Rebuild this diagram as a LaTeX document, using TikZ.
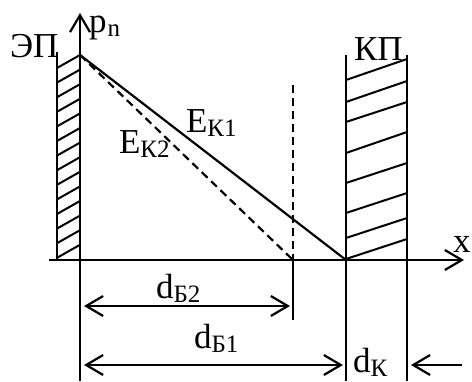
\documentclass[tikz,border=0pt]{standalone}
\usepackage{fontspec}
\setmainfont{Liberation Serif}
\usetikzlibrary{arrows.meta}
\newcommand{\lowtext}[1]{\raisebox{-4pt}{\fontsize{25}{25}\selectfont #1}}
\begin{document}
\begin{tikzpicture}[x = 1pt, y = -1pt, line width = 2.2pt,
    >= {Straight Barb[length = 17pt, width = 20pt]},
    lbl/.style = {anchor = base west, inner sep = 0pt,
                  font = \fontsize{35}{40}\selectfont},
    hatch/.style = {line width = 2pt},
    dsh/.style = {dash pattern = on 8pt off 5pt}]
  \useasboundingbox (0,0) rectangle (472,381);
  \coordinate (ytop) at (80,13);
  \coordinate (ybot) at (80,381);
  \coordinate (xl) at (49,260);
  \coordinate (xr) at (464,260);
  \coordinate (peak) at (80,55);
  \coordinate (k) at (346,260);
  \coordinate (b2) at (293,260);
  \coordinate (b2top) at (293,85);
  \coordinate (b2low) at (293,320);
  \coordinate (ep) at (57,52);
  \coordinate (epb) at (57,260);
  \coordinate (kpl) at (346,55);
  \coordinate (kplb) at (346,381);
  \coordinate (kpr) at (407,55);
  \coordinate (kprb) at (407,381);
  \coordinate (dba) at (84,306);
  \coordinate (dbb) at (290,306);
  \coordinate (dca) at (84,365);
  \coordinate (dcb) at (343,365);
  \coordinate (dka) at (462,365);
  \coordinate (dkb) at (411,365);
  % axes
  \draw [->] (ybot) -- (ytop);
  \draw [->] (xl) -- (xr);
  % emitter junction
  \draw (ep) -- (epb);
  \foreach \y in {0,...,13}
    \draw [hatch] (57,68+14.6*\y) -- (80,55+14.6*\y);
  % collector junction
  \draw (kpl) -- (kplb);
  \draw (kpr) -- (kprb);
  \foreach \l/\r in {80/59, 102/81, 122/102, 153/132,
                     183/163, 213/193, 238/218, 259/239}
    \draw [hatch] (346,\l) -- (407,\r);
  % profiles
  \draw (peak) -- (k);
  \draw [dsh] (peak) -- (b2);
  \draw [dsh] (b2top) -- (b2);
  \draw (b2) -- (b2low);
  % widths
  \draw [<->] (dba) -- (dbb);
  \draw [<->] (dca) -- (dcb);
  \draw [->] (dka) -- (dkb);
  \node [lbl] (ep lbl) at (9,57) {ЭП};
  \node [lbl] (kp lbl) at (353,60) {КП};
  \node [lbl] (p lbl) at (88,32) {p\kern1pt\lowtext{n}};
  \node [lbl] (x lbl) at (452,252) {x};
  \node [lbl] (e1 lbl) at (185,132) {E\lowtext{К1}};
  \node [lbl] (e2 lbl) at (118,153) {E\lowtext{К2}};
  \node [lbl] (d2 lbl) at (155,298) {d\lowtext{Б2}};
  \node [lbl] (d1 lbl) at (193,348) {d\lowtext{Б1}};
  \node [lbl] (dk lbl) at (352,372) {d\lowtext{К}};
\end{tikzpicture}
\end{document}
